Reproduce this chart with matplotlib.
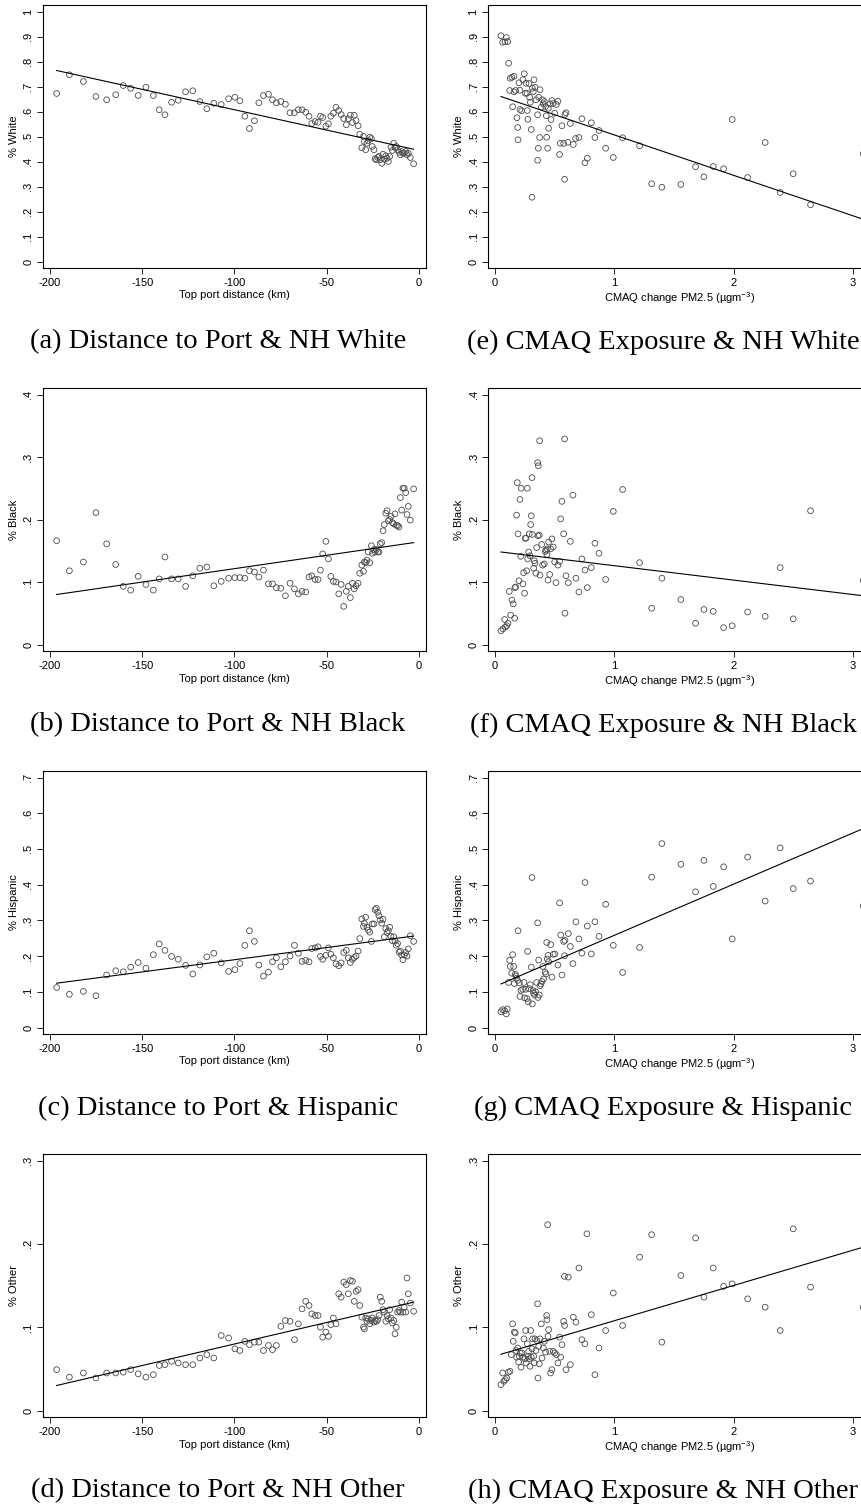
import numpy as np
import matplotlib
matplotlib.use('Agg')
import matplotlib.pyplot as plt

plt.rcParams['font.family'] = ['Liberation Sans', 'DejaVu Sans']
plt.rcParams['mathtext.fontset'] = 'custom'
plt.rcParams['mathtext.rm'] = 'Liberation Sans'

# ---- distance bins (km to top port), shared by panels a-d
dist_km = [-196.4, -189.5, -181.9, -175.1, -169.3, -164.4, -160.3, -156.3, -152.2, -148.0,
           -144.0, -140.8, -137.7, -134.1, -130.5, -126.5, -122.6, -118.8, -115.0, -111.2,
           -107.2, -103.2, -99.8, -97.1, -94.4, -91.9, -89.2, -86.8, -84.3, -81.6,
           -79.4, -77.3, -74.9, -72.4, -69.9, -67.5, -65.4, -63.4, -61.4, -59.6,
           -58.1, -56.3, -54.7, -53.4, -52.2, -50.5, -49.1, -47.8, -46.4, -45.0,
           -43.5, -42.2, -40.8, -39.4, -38.3, -37.2, -36.1, -35.1, -34.1, -33.0,
           -32.1, -31.0, -30.1, -29.6, -28.9, -28.2, -27.5, -26.7, -25.8, -25.3,
           -24.4, -23.8, -23.1, -22.4, -21.7, -21.0, -20.2, -19.5, -18.8, -18.0,
           -17.3, -16.6, -15.9, -15.2, -14.4, -13.7, -13.0, -12.3, -11.6, -10.8,
           -10.1, -9.4, -8.7, -8.0, -7.2, -6.5, -5.8, -4.7, -2.9]

dist_white = [0.672, 0.747, 0.720, 0.660, 0.647, 0.667, 0.704, 0.693, 0.664, 0.697,
              0.664, 0.607, 0.587, 0.637, 0.645, 0.679, 0.683, 0.640, 0.611, 0.633,
              0.628, 0.651, 0.657, 0.643, 0.581, 0.532, 0.563, 0.635, 0.664, 0.669,
              0.647, 0.635, 0.640, 0.629, 0.595, 0.595, 0.607, 0.607, 0.597, 0.581,
              0.552, 0.560, 0.557, 0.581, 0.576, 0.541, 0.551, 0.581, 0.593, 0.617,
              0.604, 0.588, 0.572, 0.547, 0.571, 0.585, 0.556, 0.585, 0.564, 0.543,
              0.509, 0.455, 0.500, 0.480, 0.447, 0.473, 0.484, 0.497, 0.492, 0.460,
              0.447, 0.411, 0.407, 0.416, 0.420, 0.407, 0.393, 0.429, 0.409, 0.423,
              0.413, 0.400, 0.420, 0.457, 0.444, 0.473, 0.456, 0.460, 0.447, 0.437,
              0.427, 0.440, 0.433, 0.433, 0.440, 0.427, 0.433, 0.416, 0.391]

dist_black = [0.166, 0.118, 0.132, 0.211, 0.161, 0.128, 0.093, 0.087, 0.109, 0.096,
              0.087, 0.105, 0.140, 0.105, 0.105, 0.093, 0.110, 0.122, 0.124, 0.094,
              0.101, 0.106, 0.107, 0.107, 0.106, 0.118, 0.116, 0.108, 0.119, 0.097,
              0.097, 0.091, 0.090, 0.078, 0.098, 0.089, 0.081, 0.085, 0.084, 0.108,
              0.110, 0.104, 0.104, 0.119, 0.145, 0.165, 0.137, 0.109, 0.101, 0.100,
              0.081, 0.096, 0.061, 0.085, 0.093, 0.075, 0.098, 0.089, 0.094, 0.098,
              0.114, 0.127, 0.117, 0.132, 0.131, 0.135, 0.148, 0.131, 0.158, 0.146,
              0.152, 0.148, 0.152, 0.148, 0.148, 0.161, 0.163, 0.182, 0.192, 0.210,
              0.214, 0.198, 0.200, 0.205, 0.195, 0.193, 0.209, 0.191, 0.190, 0.188,
              0.235, 0.215, 0.250, 0.250, 0.243, 0.208, 0.221, 0.199, 0.249]

dist_hisp = [0.112, 0.093, 0.101, 0.089, 0.147, 0.159, 0.156, 0.169, 0.182, 0.166,
             0.204, 0.234, 0.216, 0.199, 0.191, 0.174, 0.150, 0.175, 0.198, 0.208,
             0.181, 0.157, 0.162, 0.179, 0.230, 0.271, 0.241, 0.175, 0.144, 0.155,
             0.184, 0.195, 0.170, 0.184, 0.200, 0.230, 0.208, 0.185, 0.188, 0.184,
             0.221, 0.223, 0.226, 0.199, 0.191, 0.202, 0.223, 0.205, 0.195, 0.178,
             0.173, 0.181, 0.210, 0.216, 0.195, 0.182, 0.191, 0.196, 0.200, 0.214,
             0.249, 0.304, 0.283, 0.292, 0.309, 0.281, 0.273, 0.267, 0.241, 0.290,
             0.290, 0.330, 0.334, 0.323, 0.313, 0.301, 0.292, 0.303, 0.254, 0.277,
             0.266, 0.271, 0.281, 0.255, 0.243, 0.254, 0.242, 0.230, 0.235, 0.211,
             0.214, 0.203, 0.190, 0.203, 0.210, 0.200, 0.220, 0.257, 0.241]

dist_other = [0.049, 0.040, 0.045, 0.039, 0.045, 0.045, 0.046, 0.049, 0.044, 0.040,
              0.043, 0.054, 0.055, 0.059, 0.057, 0.055, 0.055, 0.063, 0.067, 0.063,
              0.090, 0.087, 0.074, 0.072, 0.083, 0.079, 0.082, 0.082, 0.072, 0.078,
              0.073, 0.078, 0.101, 0.108, 0.107, 0.085, 0.104, 0.122, 0.131, 0.126,
              0.116, 0.114, 0.114, 0.100, 0.088, 0.094, 0.089, 0.103, 0.111, 0.104,
              0.140, 0.136, 0.154, 0.151, 0.140, 0.156, 0.155, 0.131, 0.143, 0.145,
              0.126, 0.112, 0.100, 0.098, 0.111, 0.107, 0.110, 0.104, 0.108, 0.111,
              0.106, 0.108, 0.107, 0.109, 0.114, 0.136, 0.131, 0.121, 0.118, 0.107,
              0.114, 0.110, 0.121, 0.111, 0.105, 0.108, 0.092, 0.100, 0.118, 0.120,
              0.118, 0.130, 0.118, 0.124, 0.118, 0.159, 0.140, 0.129, 0.119]

# ---- CMAQ change in PM2.5 (panels e-h)
cmaq_white_x = [0.050, 0.064, 0.084, 0.095, 0.106, 0.114, 0.123, 0.128, 0.142, 0.148,
                0.159, 0.159, 0.173, 0.184, 0.190, 0.193, 0.201, 0.209, 0.209, 0.223,
                0.234, 0.246, 0.254, 0.260, 0.268, 0.271, 0.276, 0.285, 0.290, 0.296,
                0.304, 0.310, 0.313, 0.321, 0.327, 0.335, 0.343, 0.357, 0.363, 0.357,
                0.366, 0.374, 0.377, 0.388, 0.396, 0.405, 0.413, 0.424, 0.430, 0.433,
                0.441, 0.447, 0.449, 0.460, 0.469, 0.477, 0.488, 0.500, 0.514, 0.527,
                0.541, 0.547, 0.561, 0.575, 0.583, 0.586, 0.595, 0.611, 0.631, 0.656,
                0.675, 0.703, 0.728, 0.754, 0.773, 0.807, 0.837, 0.871, 0.927, 0.991,
                1.069, 1.211, 1.312, 1.398, 1.557, 1.680, 1.750, 1.828, 1.915, 1.987,
                2.116, 2.263, 2.389, 2.498, 2.643, 3.084]
cmaq_white_y = [0.903, 0.877, 0.879, 0.896, 0.880, 0.793, 0.684, 0.733, 0.737, 0.619,
                0.741, 0.679, 0.684, 0.575, 0.536, 0.487, 0.715, 0.685, 0.608, 0.603,
                0.727, 0.751, 0.673, 0.713, 0.673, 0.604, 0.569, 0.712, 0.657, 0.637,
                0.528, 0.257, 0.693, 0.680, 0.727, 0.697, 0.647, 0.587, 0.453, 0.405,
                0.657, 0.496, 0.687, 0.617, 0.647, 0.631, 0.640, 0.620, 0.583, 0.497,
                0.453, 0.613, 0.533, 0.631, 0.568, 0.644, 0.632, 0.593, 0.628, 0.641,
                0.428, 0.473, 0.543, 0.472, 0.329, 0.588, 0.595, 0.477, 0.552, 0.468,
                0.492, 0.496, 0.571, 0.395, 0.413, 0.555, 0.496, 0.524, 0.453, 0.416,
                0.495, 0.463, 0.311, 0.297, 0.308, 0.379, 0.339, 0.380, 0.371, 0.568,
                0.336, 0.476, 0.276, 0.351, 0.227, 0.431]

cmaq_black_x = [0.050, 0.067, 0.081, 0.087, 0.098, 0.109, 0.120, 0.131, 0.142, 0.153,
                0.165, 0.167, 0.173, 0.181, 0.187, 0.193, 0.201, 0.209, 0.215, 0.220,
                0.234, 0.240, 0.248, 0.254, 0.260, 0.265, 0.271, 0.274, 0.282, 0.287,
                0.293, 0.299, 0.304, 0.310, 0.313, 0.324, 0.329, 0.335, 0.343, 0.349,
                0.357, 0.363, 0.360, 0.371, 0.374, 0.377, 0.391, 0.399, 0.413, 0.421,
                0.427, 0.435, 0.438, 0.444, 0.449, 0.458, 0.466, 0.477, 0.488, 0.500,
                0.511, 0.527, 0.541, 0.550, 0.561, 0.575, 0.583, 0.586, 0.595, 0.614,
                0.631, 0.653, 0.678, 0.703, 0.728, 0.754, 0.773, 0.807, 0.837, 0.871,
                0.927, 0.991, 1.069, 1.211, 1.312, 1.398, 1.557, 1.680, 1.750, 1.828,
                1.915, 1.987, 2.116, 2.263, 2.389, 2.498, 2.643, 3.084]
cmaq_black_y = [0.022, 0.025, 0.040, 0.028, 0.030, 0.034, 0.085, 0.047, 0.071, 0.065,
                0.042, 0.091, 0.092, 0.207, 0.259, 0.177, 0.102, 0.232, 0.141, 0.250,
                0.097, 0.115, 0.082, 0.170, 0.170, 0.118, 0.250, 0.137, 0.148, 0.177,
                0.142, 0.192, 0.206, 0.267, 0.176, 0.122, 0.134, 0.130, 0.114, 0.155,
                0.291, 0.286, 0.174, 0.175, 0.326, 0.111, 0.160, 0.127, 0.129, 0.149,
                0.151, 0.144, 0.153, 0.103, 0.164, 0.112, 0.153, 0.169, 0.156, 0.132,
                0.099, 0.127, 0.133, 0.201, 0.229, 0.177, 0.329, 0.050, 0.110, 0.099,
                0.165, 0.239, 0.106, 0.084, 0.137, 0.119, 0.091, 0.123, 0.162, 0.146,
                0.104, 0.213, 0.248, 0.131, 0.058, 0.106, 0.072, 0.034, 0.056, 0.053,
                0.027, 0.030, 0.052, 0.045, 0.123, 0.041, 0.214, 0.102]

cmaq_hisp_x = [0.050, 0.064, 0.081, 0.095, 0.103, 0.114, 0.123, 0.128, 0.140, 0.148,
               0.156, 0.162, 0.170, 0.176, 0.181, 0.190, 0.193, 0.204, 0.209, 0.218,
               0.232, 0.243, 0.248, 0.257, 0.268, 0.273, 0.279, 0.287, 0.296, 0.304,
               0.310, 0.313, 0.318, 0.324, 0.332, 0.340, 0.349, 0.357, 0.360, 0.366,
               0.371, 0.377, 0.385, 0.394, 0.402, 0.407, 0.419, 0.427, 0.433, 0.438,
               0.444, 0.449, 0.466, 0.477, 0.488, 0.502, 0.527, 0.541, 0.550, 0.561,
               0.575, 0.583, 0.586, 0.614, 0.631, 0.653, 0.678, 0.703, 0.728, 0.754,
               0.773, 0.807, 0.837, 0.871, 0.927, 0.991, 1.069, 1.211, 1.312, 1.398,
               1.557, 1.680, 1.750, 1.828, 1.915, 1.987, 2.116, 2.263, 2.389, 2.498,
               2.643, 3.084]
cmaq_hisp_y = [0.044, 0.050, 0.047, 0.038, 0.052, 0.126, 0.188, 0.171, 0.152, 0.204,
               0.171, 0.123, 0.149, 0.144, 0.138, 0.132, 0.271, 0.125, 0.087, 0.104,
               0.107, 0.126, 0.083, 0.107, 0.081, 0.213, 0.072, 0.109, 0.120, 0.169,
               0.420, 0.066, 0.103, 0.096, 0.091, 0.100, 0.126, 0.293, 0.084, 0.189,
               0.091, 0.117, 0.122, 0.129, 0.171, 0.136, 0.155, 0.150, 0.238, 0.192,
               0.202, 0.184, 0.232, 0.141, 0.205, 0.206, 0.175, 0.349, 0.259, 0.147,
               0.241, 0.201, 0.244, 0.263, 0.227, 0.179, 0.296, 0.248, 0.208, 0.406,
               0.284, 0.206, 0.296, 0.255, 0.345, 0.230, 0.154, 0.224, 0.421, 0.515,
               0.457, 0.380, 0.468, 0.395, 0.450, 0.248, 0.477, 0.354, 0.503, 0.389,
               0.410, 0.340]

cmaq_other_x = [0.050, 0.064, 0.075, 0.087, 0.098, 0.112, 0.126, 0.137, 0.148, 0.153,
                0.162, 0.170, 0.176, 0.181, 0.190, 0.198, 0.204, 0.212, 0.218, 0.226,
                0.234, 0.243, 0.251, 0.257, 0.262, 0.271, 0.276, 0.282, 0.287, 0.293,
                0.299, 0.304, 0.310, 0.315, 0.324, 0.329, 0.335, 0.343, 0.349, 0.357,
                0.360, 0.366, 0.371, 0.377, 0.388, 0.394, 0.405, 0.413, 0.424, 0.433,
                0.435, 0.441, 0.444, 0.449, 0.458, 0.466, 0.477, 0.488, 0.500, 0.514,
                0.527, 0.541, 0.550, 0.561, 0.575, 0.581, 0.583, 0.595, 0.614, 0.631,
                0.656, 0.678, 0.703, 0.728, 0.754, 0.770, 0.807, 0.837, 0.871, 0.927,
                0.991, 1.069, 1.211, 1.312, 1.398, 1.557, 1.680, 1.750, 1.828, 1.915,
                1.987, 2.116, 2.263, 2.389, 2.498, 2.643, 3.084]
cmaq_other_y = [0.031, 0.045, 0.035, 0.037, 0.039, 0.046, 0.047, 0.067, 0.104, 0.083,
                0.094, 0.093, 0.072, 0.064, 0.075, 0.058, 0.065, 0.069, 0.052, 0.069,
                0.064, 0.086, 0.062, 0.096, 0.057, 0.080, 0.065, 0.071, 0.062, 0.053,
                0.096, 0.064, 0.074, 0.086, 0.065, 0.057, 0.086, 0.072, 0.084, 0.128,
                0.039, 0.077, 0.056, 0.086, 0.104, 0.063, 0.075, 0.083, 0.070, 0.114,
                0.109, 0.223, 0.089, 0.097, 0.071, 0.045, 0.049, 0.071, 0.069, 0.067,
                0.057, 0.088, 0.064, 0.079, 0.107, 0.161, 0.102, 0.049, 0.160, 0.055,
                0.112, 0.106, 0.171, 0.085, 0.080, 0.212, 0.115, 0.043, 0.075, 0.096,
                0.141, 0.102, 0.184, 0.211, 0.082, 0.162, 0.207, 0.136, 0.171, 0.149,
                0.152, 0.134, 0.124, 0.096, 0.218, 0.148, 0.124]

# linear fit values at the two ends of each x range
fit_dist_white = [0.764, 0.449]
fit_dist_black = [0.080, 0.163]
fit_dist_hisp = [0.124, 0.256]
fit_dist_other = [0.030, 0.130]
fit_cmaq_white = [0.660, 0.169]
fit_cmaq_black = [0.148, 0.078]
fit_cmaq_hisp = [0.122, 0.557]
fit_cmaq_other = [0.0675, 0.196]

y_names = ['% White', '% Black', '% Hispanic', '% Other']
y_tops = [1.0, 0.4, 0.7, 0.3]
dist_captions = ['(a) Distance to Port & NH White', '(b) Distance to Port & NH Black',
                 '(c) Distance to Port & Hispanic', '(d) Distance to Port & NH Other']
cmaq_captions = ['(e) CMAQ Exposure & NH White', '(f) CMAQ Exposure & NH Black',
                 '(g) CMAQ Exposure & Hispanic', '(h) CMAQ Exposure & NH Other']

W, H = 862, 1507
fig = plt.figure(figsize=(W / 100, H / 100), dpi=100)

AX_W, AX_H = 383, 263
row_tops = [5, 388, 771, 1154]
col_lefts = [43, 488.3]


def stata_label(v):
    s = ('%g' % round(v, 3))
    if s.startswith('0.'):
        s = s[1:]
    return s


def make_panel(left, top, xs, ys, fit, ymax, ylab, xlab, xlim, xticks, xticklabels):
    ax = fig.add_axes([left / W, 1 - (top + AX_H) / H, AX_W / W, AX_H / H])
    ax.scatter(xs, ys, s=17, facecolors='none', edgecolors='#4a4a4a',
               linewidths=0.6, zorder=3, clip_on=True)
    ax.plot([min(xs), max(xs)], fit, color='black', lw=0.8, zorder=4)
    ax.set_xlim(xlim)
    ax.set_ylim(-0.026 * ymax, 1.026 * ymax)
    yt = np.round(np.arange(0, ymax + 1e-9, 0.1), 2)
    ax.set_yticks(yt)
    ax.set_yticklabels([stata_label(v) for v in yt])
    ax.set_xticks(xticks)
    ax.set_xticklabels(xticklabels)
    ax.tick_params(axis='both', direction='out', length=4, width=0.6,
                   labelsize=8, pad=3, colors='black')
    ax.tick_params(axis='y', labelrotation=90)
    for lbl in ax.get_yticklabels():
        lbl.set_va('center')
    for sp in ax.spines.values():
        sp.set_linewidth(0.8)
    ax.set_ylabel(ylab, fontsize=8, labelpad=3)
    ax.set_xlabel(xlab, fontsize=8, labelpad=2)
    return ax


dist_series = [dist_white, dist_black, dist_hisp, dist_other]
dist_fits = [fit_dist_white, fit_dist_black, fit_dist_hisp, fit_dist_other]
cmaq_xs = [cmaq_white_x, cmaq_black_x, cmaq_hisp_x, cmaq_other_x]
cmaq_ys = [cmaq_white_y, cmaq_black_y, cmaq_hisp_y, cmaq_other_y]
cmaq_fits = [fit_cmaq_white, fit_cmaq_black, fit_cmaq_hisp, fit_cmaq_other]

cmaq_xlabel = r'CMAQ change PM2.5 (µgm$^{\mathregular{-3}}$)'

for i in range(4):
    top = row_tops[i]
    make_panel(col_lefts[0], top, dist_km, dist_series[i], dist_fits[i], y_tops[i],
               y_names[i], 'Top port distance (km)', (-203.8, 3.8),
               [-200, -150, -100, -50, 0], ['-200', '-150', '-100', '-50', '0'])
    make_panel(col_lefts[1], top, cmaq_xs[i], cmaq_ys[i], cmaq_fits[i], y_tops[i],
               y_names[i], cmaq_xlabel, (-0.056, 3.152),
               [0, 1, 2, 3], ['0', '1', '2', '3'])
    cy = 1 - (top + 337) / H
    fig.text(218 / W, cy, dist_captions[i], ha='center', va='center',
             fontsize=20.5, family=['Liberation Serif', 'DejaVu Serif'])
    fig.text(663 / W, cy, cmaq_captions[i], ha='center', va='center',
             fontsize=20.5, family=['Liberation Serif', 'DejaVu Serif'])

fig.savefig('out.png', dpi=100)
